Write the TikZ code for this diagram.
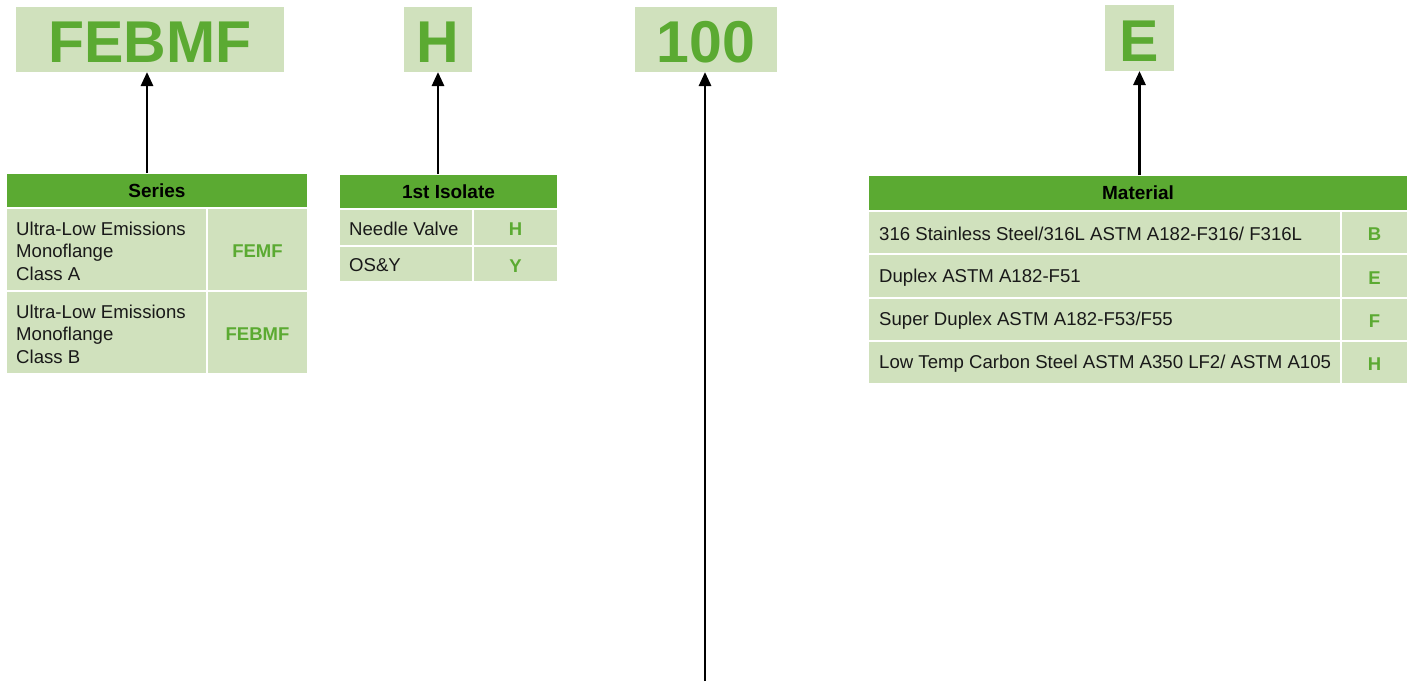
\documentclass[tikz,border=0pt]{standalone}
\usepackage{fontspec}
\setmainfont{Liberation Sans}
\usetikzlibrary{arrows.meta}
\definecolor{hdrgreen}{RGB}{91,170,50}
\definecolor{lightgreen}{RGB}{208,225,189}
\begin{document}
\begin{tikzpicture}[x=1pt,y=-1pt,
  cellbase/.style={draw=white, line width=1.5pt, inner sep=0pt, outer sep=0pt, anchor=north west},
  hdrcell/.style={cellbase, fill=hdrgreen, font=\fontsize{19}{22}\selectfont\bfseries, text=black},
  lcell/.style={cellbase, fill=lightgreen},
  ccell/.style={cellbase, fill=lightgreen, font=\fontsize{18.5}{22}\selectfont\bfseries, text=hdrgreen, text height=16.5pt, text depth=0pt},
  ltext/.style={anchor=west, inner sep=0pt, align=left, font=\fontsize{18.6}{22.5}\selectfont, text=black!90, yshift=-1.5pt},
  bigbox/.style={fill=lightgreen, inner sep=0pt, outer sep=0pt, anchor=north west},
  bigtext/.style={inner sep=0pt, font=\fontsize{59}{60}\selectfont\bfseries, text=hdrgreen},
  arr/.style={line width=2.8pt, -{Triangle[length=14pt,width=12pt]}}
]
\useasboundingbox (0,0) rectangle (1412,681);

% top code boxes
\node[bigbox, minimum width=268, minimum height=65] (fbox) at (16,7) {};
\node[bigtext, yshift=-3pt] (ftext) at (fbox.center) {FEBMF};
\node[bigbox, minimum width=68, minimum height=65] (hbox) at (404,7) {};
\node[bigtext, yshift=-3pt] (htext) at (hbox.center) {H};
\node[bigbox, minimum width=142, minimum height=65] (nbox) at (635,7) {};
\node[bigtext, yshift=-3pt] (ntext) at (nbox.center) {100};
\node[bigbox, minimum width=69, minimum height=66] (ebox) at (1105,5) {};
\node[bigtext, yshift=-3pt] (etext) at (ebox.center) {E};

% Series table
\node[hdrcell, minimum width=302, minimum height=35] (shead) at (6,173) {Series};
\node[lcell, minimum width=201, minimum height=83] (s1) at (6,208) {};
\node[ccell, minimum width=101, minimum height=83] (s1c) at (207,208) {FEMF};
\node[lcell, minimum width=201, minimum height=83] (s2) at (6,291) {};
\node[ccell, minimum width=101, minimum height=83] (s2c) at (207,291) {FEBMF};
\node[ltext] (s1t) at ([xshift=10pt]s1.west) {Ultra-Low Emissions\\Monoflange\\Class A};
\node[ltext] (s2t) at ([xshift=10pt]s2.west) {Ultra-Low Emissions\\Monoflange\\Class B};

% 1st Isolate table
\node[hdrcell, minimum width=219, minimum height=35] (ihead) at (339,174) {1st Isolate};
\node[lcell, minimum width=134, minimum height=37] (i1) at (339,209) {};
\node[ccell, minimum width=85, minimum height=37] (i1c) at (473,209) {H};
\node[lcell, minimum width=134, minimum height=36] (i2) at (339,246) {};
\node[ccell, minimum width=85, minimum height=36] (i2c) at (473,246) {Y};
\node[ltext] (i1t) at ([xshift=10pt]i1.west) {Needle Valve};
\node[ltext] (i2t) at ([xshift=10pt]i2.west) {OS\&Y};

% Material table
\node[hdrcell, minimum width=540, minimum height=36] (mhead) at (868,175) {Material};
\node[lcell, minimum width=473, minimum height=43] (m1) at (868,211) {};
\node[ccell, minimum width=67, minimum height=43] (m1c) at (1341,211) {B};
\node[lcell, minimum width=473, minimum height=44] (m2) at (868,254) {};
\node[ccell, minimum width=67, minimum height=44] (m2c) at (1341,254) {E};
\node[lcell, minimum width=473, minimum height=43] (m3) at (868,298) {};
\node[ccell, minimum width=67, minimum height=43] (m3c) at (1341,298) {F};
\node[lcell, minimum width=473, minimum height=43] (m4) at (868,341) {};
\node[ccell, minimum width=67, minimum height=43] (m4c) at (1341,341) {H};
\node[ltext] (m1t) at ([xshift=11pt]m1.west) {316 Stainless Steel/316L ASTM A182-F316/ F316L};
\node[ltext] (m2t) at ([xshift=11pt]m2.west) {Duplex ASTM A182-F51};
\node[ltext] (m3t) at ([xshift=11pt]m3.west) {Super Duplex ASTM A182-F53/F55};
\node[ltext] (m4t) at ([xshift=11pt]m4.west) {Low Temp Carbon Steel ASTM A350 LF2/ ASTM A105};

% arrows
\coordinate (nbottom) at (705,681);
\draw[arr] ([xshift=-3pt]fbox.south |- shead.north) -- ([xshift=-3pt]fbox.south);
\draw[arr] (hbox.south |- ihead.north) -- (hbox.south);
\draw[arr] (nbottom) -- (nbottom |- nbox.south);
\draw[arr] (ebox.south |- mhead.north) -- (ebox.south);
\end{tikzpicture}
\end{document}
